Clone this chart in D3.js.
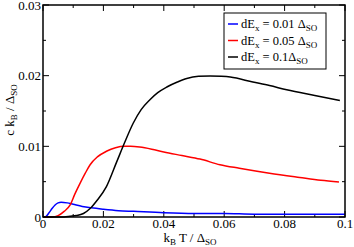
<!DOCTYPE html>
<html>
<head>
<meta charset="utf-8">
<script src="https://cdn.jsdelivr.net/npm/d3@7"></script>
<style>
  body { margin: 0; background: #fff; }
</style>
</head>
<body>
<div id="chart"></div>
<script>
// curve data
const blueT = [0.0007, 0.002, 0.003, 0.004, 0.005, 0.006, 0.008, 0.010, 0.013, 0.016, 0.020, 0.025, 0.030, 0.040, 0.050, 0.060, 0.070, 0.080, 0.090, 0.100];
const blueC = [0.0000, 0.0006, 0.0012, 0.0017, 0.0020, 0.0021, 0.0020, 0.0018, 0.0015, 0.0013, 0.0011, 0.0009, 0.0008, 0.0006, 0.0005, 0.0005, 0.0004, 0.0004, 0.0004, 0.0004];

const redT = [0.003, 0.005, 0.007, 0.009, 0.0105, 0.0123, 0.014, 0.0156, 0.018, 0.021, 0.024, 0.027, 0.029, 0.032, 0.036, 0.040, 0.046, 0.052, 0.0586, 0.065, 0.075, 0.085, 0.092, 0.098];
const redC = [0.0000, 0.0002, 0.0008, 0.0017, 0.0032, 0.0048, 0.0062, 0.0074, 0.0085, 0.0093, 0.0098, 0.0100, 0.0100, 0.0099, 0.0096, 0.0092, 0.0087, 0.0082, 0.0074, 0.0069, 0.0062, 0.0056, 0.0052, 0.00495];

const blackT = [0.007, 0.009, 0.011, 0.0134, 0.0156, 0.018, 0.021, 0.0244, 0.027, 0.0299, 0.0325, 0.0354, 0.038, 0.041, 0.0445, 0.0476, 0.0515, 0.0553, 0.059, 0.062, 0.0695, 0.075, 0.0807, 0.090, 0.0983];
const blackC = [0.0000, 0.0001, 0.0002, 0.0005, 0.0012, 0.0024, 0.0043, 0.0078, 0.0105, 0.0133, 0.0152, 0.0166, 0.0176, 0.0184, 0.0191, 0.0196, 0.0199, 0.01995, 0.0199, 0.0198, 0.0191, 0.0186, 0.0180, 0.0172, 0.0165];

const seriesColors = ['#0000ff', '#ff0000', '#000000'];
const xTicks = [0, 0.02, 0.04, 0.06, 0.08, 0.1];
const xTickLabels = ['0', '0.02', '0.04', '0.06', '0.08', '0.1'];
const yTicks = [0, 0.01, 0.02, 0.03];
const yTickLabels = ['0', '0.01', '0.02', '0.03'];
const legendVals = ['0.01 ', '0.05 ', '0.1'];

const width = 354, height = 247;
const margin = { top: 5, right: 9, bottom: 30, left: 43 };

const svg = d3.select('#chart').append('svg')
    .attr('width', width)
    .attr('height', height)
    .attr('font-family', '"Liberation Serif", "Times New Roman", serif');

const x = d3.scaleLinear().domain([0, 0.1]).range([margin.left, width - margin.right]);
const y = d3.scaleLinear().domain([0, 0.03]).range([height - margin.bottom, margin.top]);

// minor ticks
const xMinor = d3.range(0.01, 0.1, 0.02);
const yMinor = d3.range(0.005, 0.03, 0.01);

const tickG = svg.append('g').attr('stroke', '#000').attr('stroke-width', 1);
xTicks.forEach(t => {
    tickG.append('line').attr('x1', x(t)).attr('x2', x(t)).attr('y1', y(0)).attr('y2', y(0) - 6);
    tickG.append('line').attr('x1', x(t)).attr('x2', x(t)).attr('y1', y(0.03)).attr('y2', y(0.03) + 6);
});
xMinor.forEach(t => {
    tickG.append('line').attr('x1', x(t)).attr('x2', x(t)).attr('y1', y(0)).attr('y2', y(0) - 3);
    tickG.append('line').attr('x1', x(t)).attr('x2', x(t)).attr('y1', y(0.03)).attr('y2', y(0.03) + 3);
});
yTicks.forEach(t => {
    tickG.append('line').attr('x1', x(0)).attr('x2', x(0) + 6).attr('y1', y(t)).attr('y2', y(t));
    tickG.append('line').attr('x1', x(0.1)).attr('x2', x(0.1) - 6).attr('y1', y(t)).attr('y2', y(t));
});
yMinor.forEach(t => {
    tickG.append('line').attr('x1', x(0)).attr('x2', x(0) + 3).attr('y1', y(t)).attr('y2', y(t));
    tickG.append('line').attr('x1', x(0.1)).attr('x2', x(0.1) - 3).attr('y1', y(t)).attr('y2', y(t));
});

// tick labels
svg.append('g').selectAll('text')
    .data(xTicks)
    .enter().append('text')
    .attr('x', d => x(d))
    .attr('y', y(0) + 11)
    .attr('text-anchor', 'middle')
    .attr('font-size', 13)
    .text((d, i) => xTickLabels[i]);

svg.append('g').selectAll('text')
    .data(yTicks)
    .enter().append('text')
    .attr('x', x(0) - 2)
    .attr('y', d => y(d) + 4.5)
    .attr('text-anchor', 'end')
    .attr('font-size', 13)
    .text((d, i) => yTickLabels[i]);

// curves
const line = d3.line().curve(d3.curveMonotoneX);
const series = [[blueT, blueC], [redT, redC], [blackT, blackC]];
const plot = svg.append('g');
series.forEach((s, i) => {
    const pts = s[0].map((t, j) => [x(t), y(s[1][j])]);
    pts.unshift([x(0), y(0)]);
    plot.append('path')
        .attr('d', line(pts))
        .attr('fill', 'none')
        .attr('stroke', seriesColors[i])
        .attr('stroke-width', 1.5);
});

// frame
svg.append('rect')
    .attr('x', x(0)).attr('y', y(0.03))
    .attr('width', x(0.1) - x(0)).attr('height', y(0) - y(0.03))
    .attr('fill', 'none').attr('stroke', '#000').attr('stroke-width', 1.5);

// axis titles
const xt = svg.append('text')
    .attr('x', 190).attr('y', 241.5)
    .attr('text-anchor', 'middle')
    .attr('font-size', 13);
xt.append('tspan').text('k');
xt.append('tspan').attr('font-size', 9).attr('dy', 3).text('B');
xt.append('tspan').attr('dy', -3).text(' T / Δ');
xt.append('tspan').attr('font-size', 9).attr('dy', 3).text('SO');

const yt = svg.append('text')
    .attr('transform', `translate(14, ${y(0.015) - 1}) rotate(-90)`)
    .attr('text-anchor', 'middle')
    .attr('font-size', 13);
yt.append('tspan').text('c k');
yt.append('tspan').attr('font-size', 9).attr('dy', 3).text('B');
yt.append('tspan').attr('dy', -3).text(' / Δ');
yt.append('tspan').attr('font-size', 9).attr('dy', 3).text('SO');

// legend
const legend = svg.append('g').attr('transform', 'translate(224, 13)');
legend.append('rect')
    .attr('width', 102).attr('height', 56)
    .attr('fill', '#fff').attr('stroke', '#000').attr('stroke-width', 1);
legendVals.forEach((v, i) => {
    const ly = 11 + i * 16.5;
    legend.append('line')
        .attr('x1', 4).attr('x2', 14).attr('y1', ly).attr('y2', ly)
        .attr('stroke', seriesColors[i]).attr('stroke-width', 1.5);
    const t = legend.append('text').attr('x', 17).attr('y', ly + 4).attr('font-size', 12.5);
    t.append('tspan').text('dE');
    t.append('tspan').attr('font-size', 9).attr('dy', 3).text('x');
    t.append('tspan').attr('dy', -3).text(' = ' + v + 'Δ');
    t.append('tspan').attr('font-size', 9).attr('dy', 3).text('SO');
});
</script>
</body>
</html>
